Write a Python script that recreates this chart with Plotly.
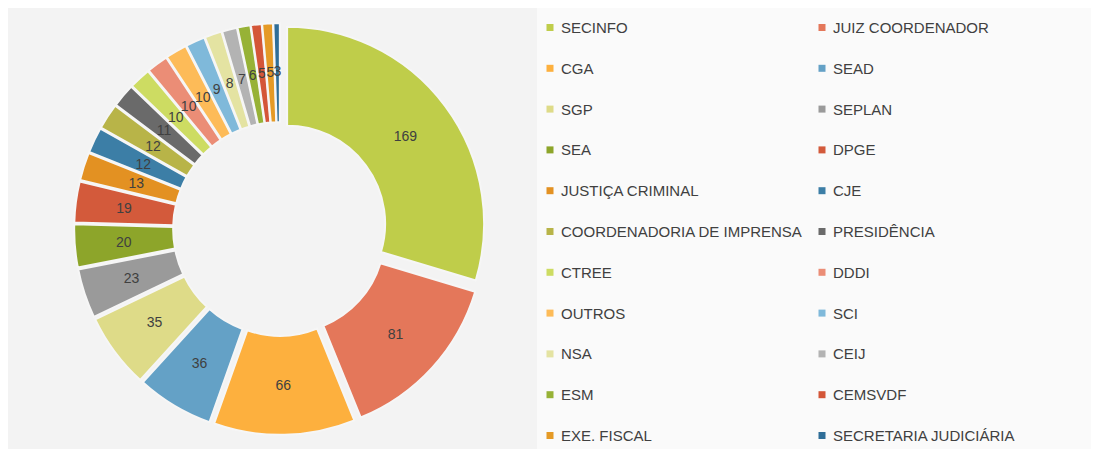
import plotly.graph_objects as go

labels = ["SECINFO", "JUIZ COORDENADOR", "CGA", "SEAD", "SGP", "SEPLAN", "SEA", "DPGE",
          "JUSTIÇA CRIMINAL", "CJE", "COORDENADORIA DE IMPRENSA", "PRESIDÊNCIA", "CTREE",
          "DDDI", "OUTROS", "SCI", "NSA", "CEIJ", "ESM", "CEMSVDF", "EXE. FISCAL",
          "SECRETARIA JUDICIÁRIA"]
values = [169, 81, 66, 36, 35, 23, 20, 19, 13, 12, 12, 11, 10, 10, 10, 9, 8, 7, 6, 5, 5, 3]
colors = ["#bfcd4a", "#e4775a", "#fdb03e", "#64a1c6", "#dedb88", "#9a9a9a", "#8da52a", "#d35a3b",
          "#e39122", "#3c7ea6", "#b8b448", "#6a6a6a", "#cddc62", "#eb8d76", "#fdbb58", "#7fb9da",
          "#e4e3a2", "#b3b3b3", "#97b236", "#d45638", "#e59a26", "#2f6e98"]

# page is offset by the 8px body margin
OFF = 8
W, H = 1083, 441


def px(x):
    return (x - OFF) / W


def py(y):
    return 1 - (y - OFF) / H


CX, CY = 280, 229          # pie centre (page px)
R, PULL = 197, 0.045        # outer radius and explode fraction
R_IN = 98                   # inner radius
PULL_PX = R * PULL
FONT = "Liberation Sans, Arial, sans-serif"

fig = go.Figure()
half = R * (1 + PULL)
fig.add_trace(go.Pie(
    labels=labels, values=values, sort=False, direction="clockwise", rotation=0,
    hole=R_IN / R, pull=PULL,
    marker=dict(colors=colors, line=dict(color="#f6f6f6", width=2)),
    textinfo="none",
    domain=dict(x=[px(CX - half), px(CX + half)], y=[py(CY + half), py(CY - half)]),
    showlegend=False, hoverinfo="label+value",
))


def label_ring(r_out, r_in, texts):
    """Transparent ring that only carries the value labels at mid-ring radius."""
    h = r_out + PULL_PX
    return go.Pie(
        labels=labels, values=values, sort=False, direction="clockwise", rotation=0,
        hole=r_in / r_out, pull=PULL_PX / r_out,
        marker=dict(colors=["rgba(0,0,0,0)"] * len(values), line=dict(width=0)),
        text=texts, textinfo="text", textposition="inside", insidetextorientation="horizontal",
        textfont=dict(family=FONT, size=14, color="#404040"),
        insidetextfont=dict(family=FONT, size=14, color="#404040"),
        domain=dict(x=[px(CX - h), px(CX + h)], y=[py(CY + h), py(CY - h)]),
        showlegend=False, hoverinfo="skip",
    )


big_txt = [str(v) if v >= 15 else "" for v in values]
small_txt = [str(v) if v < 15 else "" for v in values]
fig.add_trace(label_ring(164, 131, big_txt))
fig.add_trace(label_ring(152, 131, small_txt))

shapes = [
    dict(type="rect", xref="paper", yref="paper", x0=px(537), x1=1, y0=0, y1=1,
         fillcolor="#fafafa", line=dict(width=0), layer="below"),
]
annotations = []
col_marker_x = [550, 822]
col_text_x = [559, 831]
for i, (lab, col) in enumerate(zip(labels, colors)):
    row, c = divmod(i, 2)
    yc = 27.5 + row * 40.8
    mx = col_marker_x[c]
    shapes.append(dict(type="rect", xref="paper", yref="paper",
                       x0=px(mx - 3.5), x1=px(mx + 3.5), y0=py(yc + 3.5), y1=py(yc - 3.5),
                       fillcolor=col, line=dict(width=0)))
    annotations.append(dict(text=lab, xref="paper", yref="paper", x=px(col_text_x[c]), y=py(yc),
                            xanchor="left", yanchor="middle", showarrow=False,
                            font=dict(family=FONT, size=15, color="#404040")))

fig.update_layout(
    width=W, height=H, margin=dict(l=0, r=0, t=0, b=0),
    paper_bgcolor="#f3f3f3", plot_bgcolor="#f3f3f3",
    shapes=shapes, annotations=annotations,
    uniformtext=dict(minsize=14, mode="show"),
)
fig.write_html("out.html")
